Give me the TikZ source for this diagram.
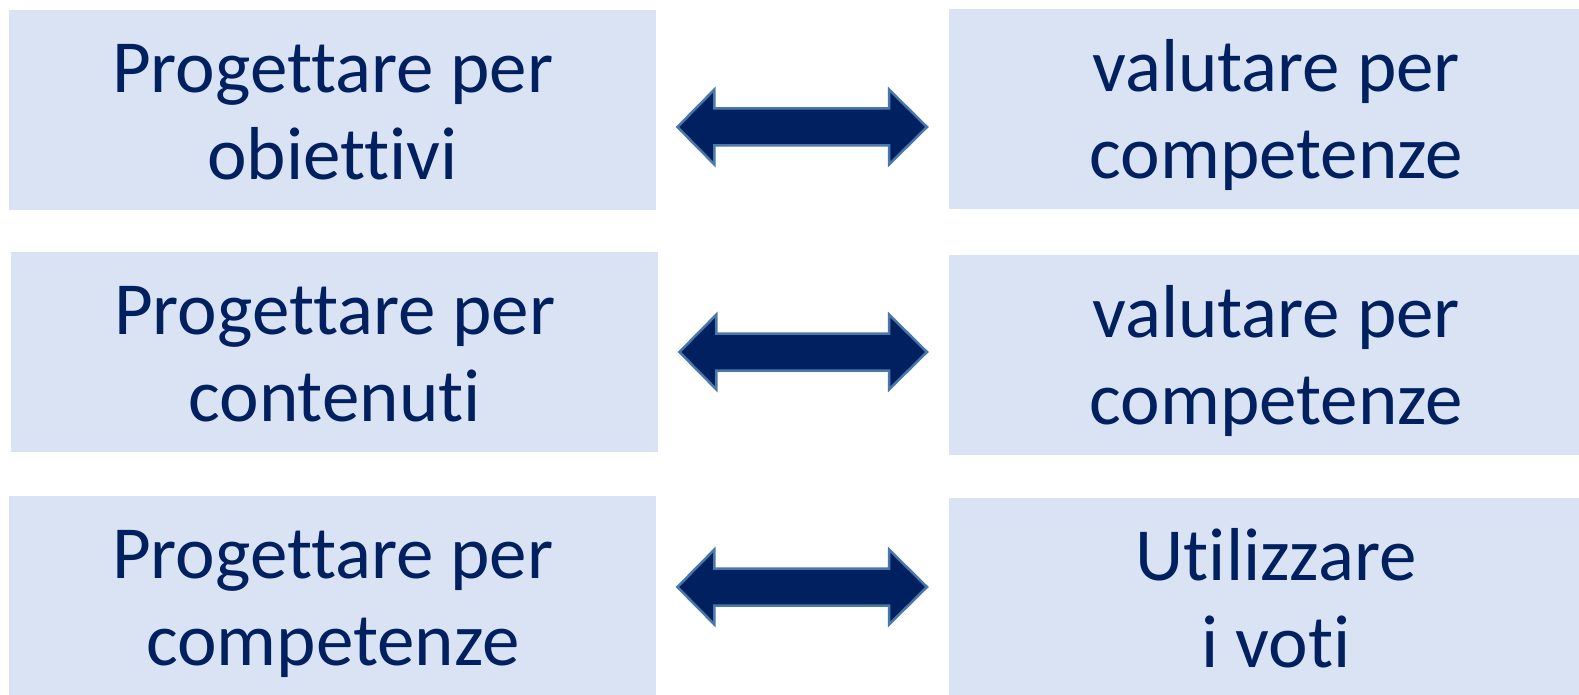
\documentclass[tikz,border=0pt]{standalone}
\usepackage{fontspec}
\setmainfont{Carlito}[Ligatures=NoCommon]
\usepackage{tikz}
\usetikzlibrary{calc}
\definecolor{navy}{HTML}{002060}
\definecolor{paleblue}{HTML}{DAE3F3}
\definecolor{edgeblue}{HTML}{4A78AA}
\def\topstrut{\rule{0pt}{70pt}}
\def\botstrut{\rule[-18pt]{0pt}{0pt}}
\def\biarrow[#1](#2)(#3)(#4){%
	\path (#2.east |- 0,#4) coordinate (tipl) (#3.west |- 0,#4) coordinate (tipr);
	\draw[#1] ($(tipl)+(21,0)$) -- ++(37,-37.5) -- ++(0,19) -- ($(tipr)+(-60,-18.5)$) -- ++(0,-19) -- ($(tipr)+(-22,0)$) -- ++(-38,37.5) -- ++(0,-19) -- ($(tipl)+(58,18.5)$) -- ++(0,19) -- cycle;}
\tikzset{
	box/.style={fill=paleblue, anchor=north west, inner sep=0pt, minimum height=200pt, align=center, text=navy, font=\fontsize{75}{87}\selectfont},
	leftbox/.style={box, minimum width=647pt},
	rightbox/.style={box, minimum width=654pt},
	dblarrow/.style={fill=navy, draw=edgeblue, line width=2.5pt, line join=miter}
}

\begin{document}
\begin{tikzpicture}[x=1pt, y=-1pt]
			%%%%% START %%%%%
			\useasboundingbox (0, 0) rectangle (1579, 695);
			
			\node[leftbox] (pobj) at (9, 10) {\topstrut Progettare per\\obiettivi\botstrut};
			\node[leftbox] (pcont) at (11, 252) {\topstrut Progettare per\\contenuti\botstrut};
			\node[leftbox] (pcomp) at (9, 496) {\topstrut Progettare per\\competenze\botstrut};
			
			\node[rightbox] (vcompa) at (949, 9) {\topstrut valutare per\\competenze\botstrut};
			\node[rightbox] (vcompb) at (949, 255) {\topstrut valutare per\\competenze\botstrut};
			\node[rightbox] (uvoti) at (949, 498) {\topstrut Utilizzare\\i voti\botstrut};
			
			\biarrow[dblarrow](pobj)(vcompa)(127)
			\biarrow[dblarrow](pcont)(vcompb)(352)
			\biarrow[dblarrow](pcomp)(uvoti)(587)
			
			%%%%% END %%%%%
		\end{tikzpicture}
\end{document}
